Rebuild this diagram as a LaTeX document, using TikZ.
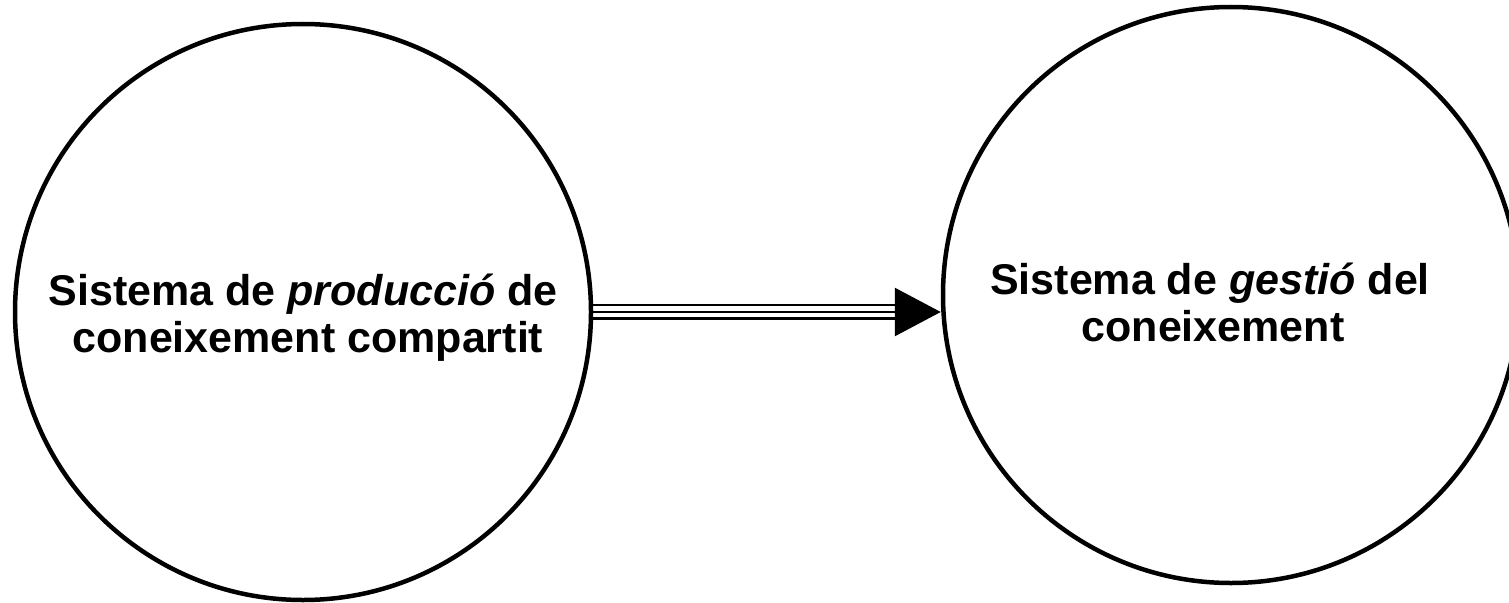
\documentclass[tikz,border=0pt]{standalone}
\usepackage{fontspec}
\setmainfont{Liberation Sans}
\usetikzlibrary{arrows.meta}
\begin{document}
\begin{tikzpicture}[x=1pt,y=-1pt,
  sysbox/.style={circle,draw=black,line width=4.5pt,minimum size=576pt,inner sep=0pt},
  lbl/.style={font=\fontsize{43}{48}\selectfont\bfseries,inner sep=0pt,anchor=base},
  shaft/.style={draw=black,line width=2.8pt}]
\useasboundingbox[fill=white] (0,0) rectangle (1509,602);
\node[sysbox] (L) at (303,312) {};
\node[sysbox] (R) at (1231,295) {};
\node[lbl] (l1) at (303,305) {Sistema de \textit{producció} de};
\node[lbl] (l2) at (308,352) {coneixement compartit};
\node[lbl] (r1) at (1210,294) {Sistema de \textit{gestió} del};
\node[lbl] (r2) at (1213,341) {coneixement};
\coordinate (tip) at (L.east -| R.west);
\draw[shaft,-{Triangle[length=46pt,width=48pt]}] (L.east) -- (tip);
\draw[shaft] ([yshift=7pt]L.east) -- ([yshift=7pt,xshift=-46pt]tip);
\draw[shaft] ([yshift=-6.5pt]L.east) -- ([yshift=-6.5pt,xshift=-46pt]tip);
\end{tikzpicture}
\end{document}
